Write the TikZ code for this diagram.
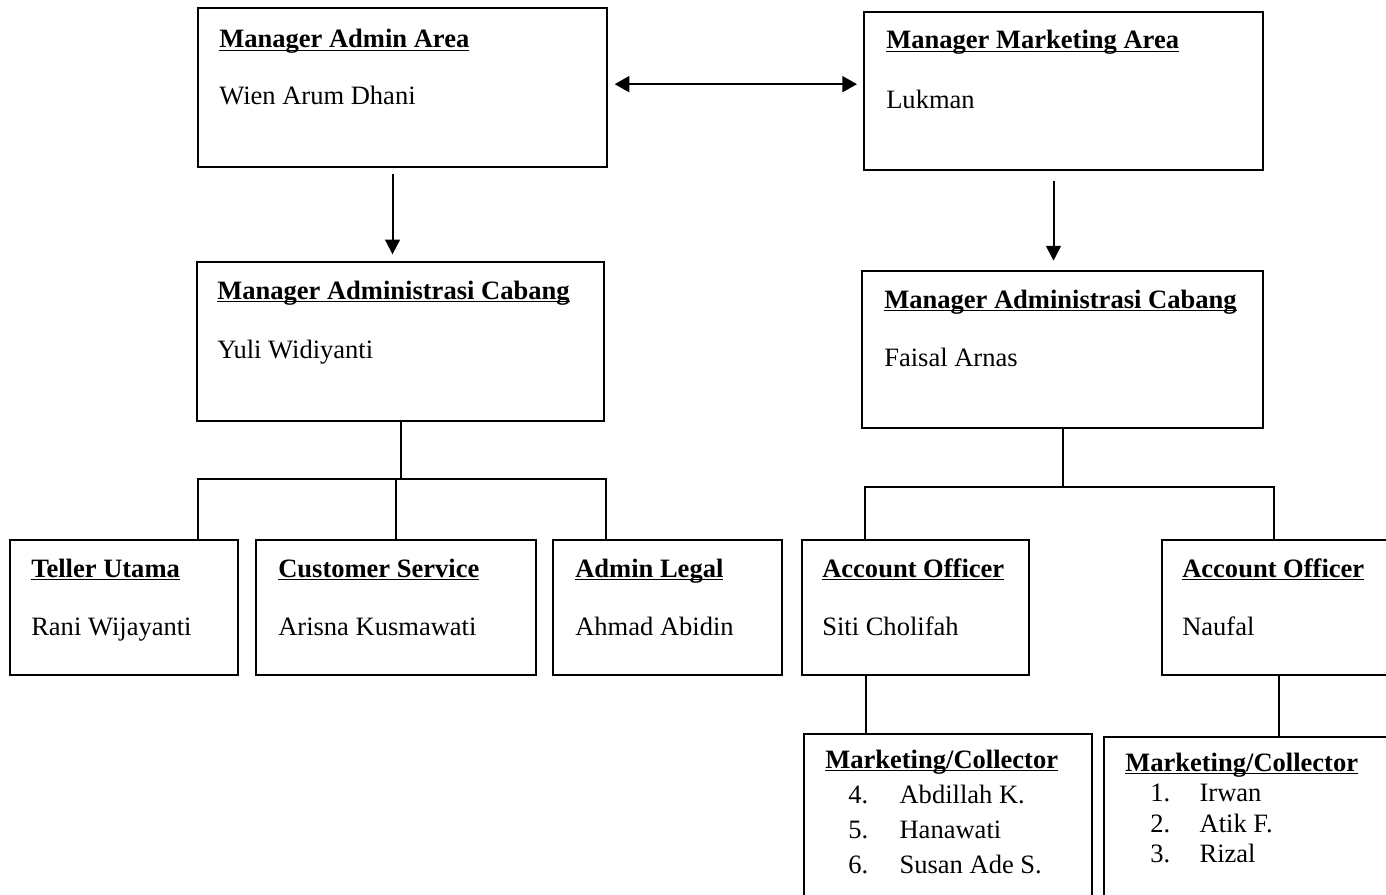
\documentclass[tikz,border=0pt]{standalone}
\usepackage{fontspec}
\setmainfont{Liberation Serif}
\usepackage{tikz}
\usetikzlibrary{arrows.meta,positioning,fit}

\newcommand{\headtxt}[1]{\underline{\smash{#1}}}
\newcommand{\orgfont}{\fontsize{19.9}{24}\selectfont}

\tikzset{
  box/.style={draw, line width=1.5pt, rectangle, inner sep=0pt},
  headline/.style={anchor=base west, inner sep=0pt, font=\orgfont\bfseries},
  person/.style={anchor=base west, inner sep=0pt, font=\orgfont},
  link/.style={line width=1.5pt},
  arr/.style={line width=1.5pt, -{Triangle[length=11pt,width=11pt]}},
  dblarr/.style={line width=1.5pt, {Triangle[length=11pt,width=12pt]}-{Triangle[length=11pt,width=12pt]}}
}

\begin{document}
\begin{tikzpicture}[x=0.75pt, y=-0.75pt]
  \useasboundingbox (0,0) rectangle (1386,895);
  \clip (0,0) rectangle (1386,895);

  % Area managers
  \node[box, fit={(198,8) (607,167)}] (adm) {};
  \node[headline] (admT) at (219,48) {\headtxt{Manager Admin Area}};
  \node[person] (admN) at (219,105) {Wien Arum Dhani};

  \node[box, fit={(864,12) (1263,170)}] (mma) {};
  \node[headline] (mmaT) at (886,49) {\headtxt{Manager Marketing Area}};
  \node[person] (mmaN) at (886,109) {Lukman};

  % Branch managers
  \node[box, fit={(197,262) (604,421)}] (mac1) {};
  \node[headline] (mac1T) at (217,299) {\headtxt{Manager Administrasi Cabang}};
  \node[person] (mac1N) at (217,358) {Yuli Widiyanti};

  \node[box, fit={(862,271) (1263,428)}] (mac2) {};
  \node[headline] (mac2T) at (884,308) {\headtxt{Manager Administrasi Cabang}};
  \node[person] (mac2N) at (884,366) {Faisal Arnas};

  % Staff
  \node[box, fit={(10,540) (238,675)}] (tel) {};
  \node[headline] (telT) at (31,577) {\headtxt{Teller Utama}};
  \node[person] (telN) at (31,635) {Rani Wijayanti};

  \node[box, fit={(256,540) (536,675)}] (cs) {};
  \node[headline] (csT) at (278,577) {\headtxt{Customer Service}};
  \node[person] (csN) at (278,635) {Arisna Kusmawati};

  \node[box, fit={(553,540) (782,675)}] (al) {};
  \node[headline] (alT) at (575,577) {\headtxt{Admin Legal}};
  \node[person] (alN) at (575,635) {Ahmad Abidin};

  \node[box, fit={(802,540) (1029,675)}] (ao1) {};
  \node[headline] (ao1T) at (822,577) {\headtxt{Account Officer}};
  \node[person] (ao1N) at (822,635) {Siti Cholifah};

  \node[box, fit={(1162,540) (1400,675)}] (ao2) {};
  \node[headline] (ao2T) at (1182,577) {\headtxt{Account Officer}};
  \node[person] (ao2N) at (1182,635) {Naufal};

  % Marketing / collectors
  \node[box, fit={(804,734) (1092,910)}] (mc1) {};
  \node[headline] (mc1T) at (825,768) {\headtxt{Marketing/Collector}};
  \node[person] (mc1a) at (848,803) {\makebox[38.5pt][l]{4.}Abdillah K.};
  \node[person] (mc1b) at (848,838) {\makebox[38.5pt][l]{5.}Hanawati};
  \node[person] (mc1c) at (848,873) {\makebox[38.5pt][l]{6.}Susan Ade S.};

  \node[box, fit={(1104,737) (1400,910)}] (mc2) {};
  \node[headline] (mc2T) at (1125,771) {\headtxt{Marketing/Collector}};
  \node[person] (mc2a) at (1150,801) {\makebox[37pt][l]{1.}Irwan};
  \node[person] (mc2b) at (1150,832) {\makebox[37pt][l]{2.}Atik F.};
  \node[person] (mc2c) at (1150,862) {\makebox[37pt][l]{3.}Rizal};

  % Arrows
  \draw[dblarr, shorten <=5pt, shorten >=4.5pt] ([yshift=2.5pt]adm.east) -- ([yshift=2.5pt]adm.east -| mma.west);
  \coordinate (a1) at ([xshift=-7.5pt]adm.south);
  \draw[arr, shorten <=4.5pt, shorten >=5pt] (a1) -- (a1 |- mac1.north);
  \coordinate (a2) at ([xshift=-7.5pt]mma.south);
  \draw[arr, shorten <=7.5pt, shorten >=7pt] (a2) -- (a2 |- mac2.north);

  % Left tree
  \coordinate (d1) at (198,479);
  \coordinate (d3) at (606,479);
  \draw[link] (mac1.south) -- (mac1.south |- d1);
  \draw[link] (d1 |- tel.north) -- (d1) -- (d3) -- (d3 |- al.north);
  \draw[link] (cs.north) -- (cs.north |- d1);

  % Right tree
  \coordinate (e1) at (865,487);
  \coordinate (e2) at (1274,487);
  \draw[link] (mac2.south) -- (mac2.south |- e1);
  \draw[link] (e1 |- ao1.north) -- (e1) -- (e2) -- (e2 |- ao2.north);

  % Collectors
  \coordinate (f1) at (866,700);
  \coordinate (f2) at (1279,700);
  \draw[link] (f1 |- ao1.south) -- (f1 |- mc1.north);
  \draw[link] (f2 |- ao2.south) -- (f2 |- mc2.north);
\end{tikzpicture}
\end{document}
